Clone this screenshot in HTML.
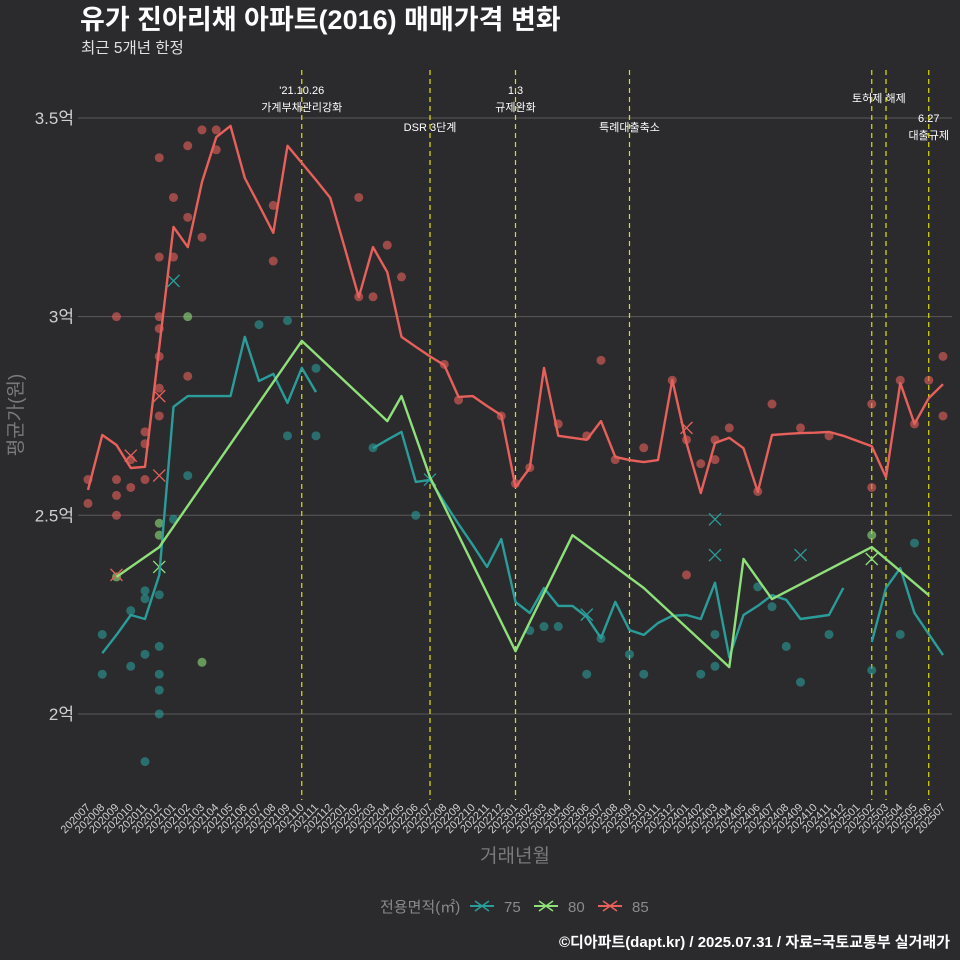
<!DOCTYPE html>
<html><head><meta charset="utf-8">
<style>
html,body{margin:0;padding:0;background:#2b2b2d;}
#wrap{position:relative;width:960px;height:960px;background:#2b2b2d;font-family:"Liberation Sans","Noto Sans CJK KR",sans-serif;overflow:hidden;}
svg text{font-family:"Liberation Sans","Noto Sans CJK KR",sans-serif;}
</style></head>
<body>
<div id="wrap">
<svg id="chart" width="960" height="960" xmlns="http://www.w3.org/2000/svg">
  <text x="80" y="29" fill="#ffffff" font-size="27" font-weight="bold">유가 진아리채 아파트(2016) 매매가격 변화</text>
  <text x="81" y="53" fill="#e0e0e0" font-size="15.5">최근 5개년 한정</text>
  <g id="grid"></g>
  <g id="vlines"></g>
  <g id="points"></g>
  <g id="lines"></g>
  <g id="yaxis"></g>
  <g id="xaxis"></g>
  <text transform="translate(22,415) rotate(-90)" text-anchor="middle" fill="#7a7a7a" font-size="19">평균가(원)</text>
  <text x="515" y="862" text-anchor="middle" fill="#7a7a7a" font-size="19">거래년월</text>
  <g>
    <text x="380" y="912" fill="#8a8a8a" font-size="15">전용면적(㎡)</text>
    <g>
      <line x1="470" y1="906" x2="494" y2="906" stroke="#2a9d9a" stroke-width="2"/>
      <path d="M475 901 L489 911 M475 911 L489 901" stroke="#2a9d9a" stroke-width="1.5"/>
      <text x="504" y="912" fill="#8a8a8a" font-size="15">75</text>
    </g>
    <g>
      <line x1="534" y1="906" x2="558" y2="906" stroke="#8fe07a" stroke-width="2"/>
      <path d="M539 901 L553 911 M539 911 L553 901" stroke="#8fe07a" stroke-width="1.5"/>
      <text x="568" y="912" fill="#8a8a8a" font-size="15">80</text>
    </g>
    <g>
      <line x1="598" y1="906" x2="622" y2="906" stroke="#e8605b" stroke-width="2"/>
      <path d="M603 901 L617 911 M603 911 L617 901" stroke="#e8605b" stroke-width="1.5"/>
      <text x="632" y="912" fill="#8a8a8a" font-size="15">85</text>
    </g>
  </g>
  <text x="950" y="947" text-anchor="end" fill="#ffffff" font-size="15" font-weight="bold">©디아파트(dapt.kr) / 2025.07.31 / 자료=국토교통부 실거래가</text>
</svg>
</div>
<script>
const months = [];
for (let y = 2020; y <= 2025; y++) for (let m = 1; m <= 12; m++) { const k = y*100+m; if (k >= 202007 && k <= 202507) months.push(String(k)); }
const yTicks = [2, 2.5, 3, 3.5];
const yTickLabels = ["2억", "2.5억", "3억", "3.5억"];
const s85 = [2.564,2.702,2.677,2.619,2.622,2.924,3.226,3.175,3.339,3.452,3.480,3.349,3.281,3.211,3.430,3.387,3.344,3.299,3.175,3.049,3.175,3.112,2.949,2.924,2.900,2.878,2.798,2.800,2.775,2.752,2.571,2.619,2.871,2.700,2.695,2.690,2.737,2.647,2.639,2.634,2.639,2.841,2.682,2.556,2.682,2.695,2.669,2.559,2.702,2.705,2.707,2.708,2.710,2.700,2.687,2.674,2.596,2.833,2.730,2.795,2.830];
const s75 = [null,2.153,2.199,2.249,2.239,2.350,2.773,2.800,2.800,2.800,2.800,2.949,2.838,2.856,2.783,2.871,2.810,null,null,null,2.669,2.690,2.710,2.584,2.589,2.533,2.478,2.425,2.370,2.440,2.282,2.254,2.317,2.272,2.272,2.244,2.191,2.282,2.211,2.199,2.229,2.247,2.249,2.239,2.330,2.143,2.249,2.272,2.299,2.287,2.239,2.244,2.249,2.317,null,2.181,2.317,2.367,2.254,2.201,2.148];
const s80Months = [2,5,15,21,22,24,30,34,39,45,46,48,55,59];
const s80Values = [2.345,2.420,2.939,2.737,2.800,2.596,2.158,2.450,2.317,2.118,2.390,2.289,2.420,2.299];
const pts85M = [0,0,2,2,2,2,3,3,4,4,4,5,5,5,5,5,5,5,6,6,7,7,7,8,8,9,9,13,13,19,19,20,21,22,25,26,29,30,31,33,35,36,37,39,41,42,43,44,45,47,48,50,52,55,55,57,58,59,60,60,44,42];
const pts85V = [2.53,2.59,3.0,2.5,2.55,2.59,2.57,2.64,2.68,2.71,2.59,3.40,3.15,3.0,2.97,2.9,2.82,2.75,3.30,3.15,3.43,3.25,2.85,3.20,3.47,3.47,3.42,3.14,3.28,3.30,3.05,3.05,3.18,3.10,2.88,2.79,2.75,2.58,2.62,2.73,2.70,2.89,2.64,2.67,2.84,2.69,2.63,2.69,2.72,2.56,2.78,2.72,2.70,2.57,2.78,2.84,2.73,2.84,2.90,2.75,2.64,2.35];
const pts75M = [1,1,3,3,4,4,4,4,5,5,5,5,5,6,7,12,14,14,16,16,23,20,32,38,39,43,44,44,49,50,52,55,57,58,35,36,33,31,47,48];
const pts75V = [2.20,2.10,2.26,2.12,2.31,2.29,2.15,1.88,2.06,2.10,2.0,2.17,2.30,2.49,2.60,2.98,2.99,2.70,2.87,2.70,2.50,2.67,2.22,2.15,2.10,2.10,2.12,2.20,2.17,2.08,2.20,2.11,2.20,2.43,2.10,2.19,2.22,2.21,2.32,2.27];
const pts80M = [7,8,5,5,55,2];
const pts80V = [3.0,2.13,2.48,2.45,2.45,2.345];
const crossM = [6,3,5,5,5,24,35,44,44,50,42,55,2];
const crossV = [3.09,2.65,2.60,2.80,2.37,2.59,2.25,2.49,2.40,2.40,2.72,2.39,2.35];
const crossS = ["75","85","85","85","80","75","75","75","75","75","85","80","85"];
const eventMonths = [15,24,30,38,55,56,59];

const X0 = 88, XSTEP = 14.25, Y35 = 118, PXPER = 397.3;
const xS = m => X0 + m*XSTEP;
const yS = v => Y35 + (3.5 - v)*PXPER;
const NS = "http://www.w3.org/2000/svg";
const colors = {"75":"#2a9d9a","80":"#8fe07a","85":"#e8605b"};
function mk(tag, attrs, parent){ const e=document.createElementNS(NS,tag); for(const k in attrs) e.setAttribute(k,attrs[k]); parent.appendChild(e); return e; }

const grid = document.getElementById('grid');
const yaxis = document.getElementById('yaxis');
yTicks.forEach((t,i)=>{
  const gl = mk('line',{x1:78,x2:952,y1:yS(t),y2:yS(t),stroke:'#5a5a5a','stroke-width':1},grid);
  
  
  const tx = mk('text',{x:74,y:yS(t)+6,'text-anchor':'end',fill:'#cfcfcf','font-size':17},yaxis);
  tx.textContent = yTickLabels[i];
  
  
});

const xaxis = document.getElementById('xaxis');
months.forEach((lab,i)=>{
  const x = xS(i);
  const t = mk('text',{x:x+3,y:808,'text-anchor':'end',fill:'#cfcfcf','font-size':11,transform:`rotate(-45 ${x+3} 808)`},xaxis);
  t.textContent = lab;
  
  
});

const vl = document.getElementById('vlines');
eventMonths.forEach(m=>{
  const l = mk('line',{x1:xS(m),x2:xS(m),y1:70,y2:800,stroke:'#e0e000','stroke-width':1.2,'stroke-dasharray':'5,4'},vl);
  
  
});
const notes = [[15,94,"'21.10.26"],[15,111,"가계부채관리강화"],[30,94,"1.3"],[30,111,"규제완화"],[24,131,"DSR 3단계"],[38,131,"특례대출축소"],[55.5,102,"토허제 해제"],[59,122,"6.27"],[59,139,"대출규제"]];
notes.forEach(n=>{
  const t = mk('text',{x:xS(n[0]),y:n[1],'text-anchor':'middle',fill:'#ffffff','font-size':11},vl);
  t.textContent = n[2];
  
  
});

const pg = document.getElementById('points');
function dots(M,V,c,name){ M.forEach((m,i)=>{ const d=mk('circle',{cx:xS(m),cy:yS(V[i]),r:4.5,fill:c,'fill-opacity':0.6},pg);
  
   }); }
dots(pts85M,pts85V,colors["85"],'point-85');
dots(pts75M,pts75V,colors["75"],'point-75');
dots(pts80M,pts80V,colors["80"],'point-80');
crossM.forEach((m,i)=>{ const x=xS(m),y=yS(crossV[i]);
  const p=mk('path',{d:`M${x-6} ${y-6} L${x+6} ${y+6} M${x-6} ${y+6} L${x+6} ${y-6}`,stroke:colors[crossS[i]],'stroke-width':1.3},pg);
  
   });

const lg = document.getElementById('lines');
function drawLine(M,V,c,name,breakOnNull){
  let segs=[],cur=[];
  M.forEach((m,i)=>{ const v=V[i]; if(v==null){ if(breakOnNull && cur.length){segs.push(cur);cur=[];} return; } cur.push([xS(m),yS(v)]); });
  if(cur.length) segs.push(cur);
  segs.forEach(s=>{ const p=mk('path',{d:'M'+s.map(q=>q[0].toFixed(1)+' '+q[1].toFixed(1)).join(' L'),fill:'none',stroke:c,'stroke-width':2.4,'stroke-linejoin':'round'},lg);
    
     });
}
const idx = s85.map((_,i)=>i);
drawLine(idx,s75,colors["75"],'line-75',true);
drawLine(s80Months,s80Values,colors["80"],'line-80',false);
drawLine(idx,s85,colors["85"],'line-85',false);
</script>
</body></html>
